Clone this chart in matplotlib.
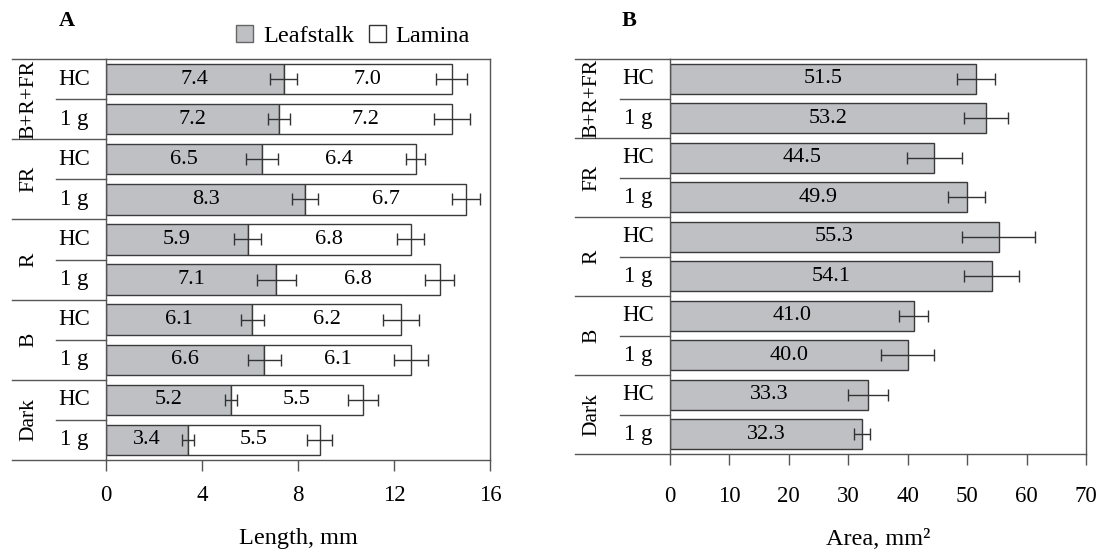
import matplotlib
matplotlib.use("Agg")
import matplotlib.pyplot as plt
from matplotlib.patches import Patch

plt.rcParams['font.family'] = ['Liberation Serif', 'DejaVu Serif']

# ---- data (top row first) ----
groups = ["B+R+FR", "FR", "R", "B", "Dark"]
subs = ["HC", "1 g"]
leaf = [7.4, 7.2, 6.5, 8.3, 5.9, 7.1, 6.1, 6.6, 5.2, 3.4]
leaf_err = [0.55, 0.45, 0.65, 0.55, 0.55, 0.8, 0.48, 0.7, 0.25, 0.25]
lam = [7.0, 7.2, 6.4, 6.7, 6.8, 6.8, 6.2, 6.1, 5.5, 5.5]
tot_err = [0.65, 0.75, 0.4, 0.58, 0.56, 0.6, 0.76, 0.71, 0.62, 0.52]
area = [51.5, 53.2, 44.5, 49.9, 55.3, 54.1, 41.0, 40.0, 33.3, 32.3]
area_err = [3.2, 3.75, 4.6, 3.1, 6.2, 4.65, 2.4, 4.5, 3.4, 1.3]

GRAY = "#bfc0c4"
EDGE = "#3a3a3a"
SPINE = "#555555"
W, H = 1102, 556

fig = plt.figure(figsize=(W / 100, H / 100), dpi=100)
def px_axes(l, t, r, b):
    return fig.add_axes([l / W, 1 - b / H, (r - l) / W, (b - t) / H])

axA = px_axes(106, 59, 490, 460)
axB = px_axes(670, 59, 1086, 454)

n = len(leaf)
ypos = list(range(n))
ekw = dict(ecolor="#333333", elinewidth=1.0, capsize=4, capthick=1.0)

# panel A: stacked bars
axA.barh(ypos, leaf, height=0.76, color=GRAY, edgecolor=EDGE, lw=1.0)
axA.barh(ypos, lam, left=leaf, height=0.76, color="white", edgecolor=EDGE, lw=1.0)
tot = [a + b for a, b in zip(leaf, lam)]
axA.errorbar(leaf, ypos, xerr=leaf_err, fmt="none", **ekw)
axA.errorbar(tot, ypos, xerr=tot_err, fmt="none", **ekw)
for i in range(n):
    axA.text(leaf[i] / 2, i, f"{leaf[i]:.1f}", ha="center", va="center", fontsize=16)
    axA.text(leaf[i] + lam[i] / 2, i, f"{lam[i]:.1f}", ha="center", va="center", fontsize=16)
axA.set_xlim(0, 16)
axA.set_xticks([0, 4, 8, 12, 16])
axA.set_xlabel("Length, mm", fontsize=17.5, labelpad=16)

# panel B
axB.barh(ypos, area, height=0.76, color=GRAY, edgecolor=EDGE, lw=1.0)
axB.errorbar(area, ypos, xerr=area_err, fmt="none", **ekw)
for i in range(n):
    axB.text(area[i] / 2, i, f"{area[i]:.1f}", ha="center", va="center", fontsize=16)
axB.set_xlim(0, 70)
axB.set_xticks(range(0, 71, 10))
axB.set_xlabel("Area, mm²", fontsize=17.5, labelpad=16)

# shared styling + two-level category labels on the left
for ax, lefts, pad in [(axA, (12, 56, 28.7, 74, 106, 490), 10), (axB, (575, 620, 592, 638, 670, 1086), 15)]:
    gx0, sx0, glx, slx, a0, a1 = lefts
    fr = lambda x: (x - a0) / (a1 - a0)
    ax.set_ylim(n - 0.5, -0.5)
    ax.set_yticks([])
    for s in ax.spines.values():
        s.set_color(SPINE)
        s.set_linewidth(1.0)
    ax.tick_params(axis="x", direction="out", length=8, width=1, color=SPINE,
                   labelsize=16.5, pad=pad)
    tr = ax.get_yaxis_transform()
    for g in range(len(groups) + 1):
        yb = 2 * g - 0.5
        ax.plot([fr(gx0), 0], [yb, yb], transform=tr, color=SPINE, lw=1.0, clip_on=False)
    for g, name in enumerate(groups):
        ax.plot([fr(sx0), 0], [2 * g + 0.5] * 2, transform=tr, color=SPINE, lw=1.0, clip_on=False)
        ax.text(fr(glx), 2 * g + 0.5, name, transform=tr, rotation=90, ha="center",
                va="center", fontsize=15.5)
        for k, s in enumerate(subs):
            ax.text(fr(slx), 2 * g + k, s, transform=tr, ha="center", va="center", fontsize=16.5)

fig.text(67 / W, 1 - 21 / H, "A", fontsize=16, fontweight="bold", ha="center", va="center")
fig.text(629 / W, 1 - 21 / H, "B", fontsize=16, fontweight="bold", ha="center", va="center")

handles = [Patch(facecolor=GRAY, edgecolor="#666666", label="Leafstalk"),
           Patch(facecolor="white", edgecolor="#333333", label="Lamina")]
fig.legend(handles=handles, loc="center", bbox_to_anchor=(353 / W, 1 - 36 / H), ncol=2,
           frameon=False, fontsize=17.5, handlelength=0.7, handleheight=0.7,
           handletextpad=0.4, columnspacing=0.6, borderaxespad=0)

fig.savefig("out.png", dpi=100)
